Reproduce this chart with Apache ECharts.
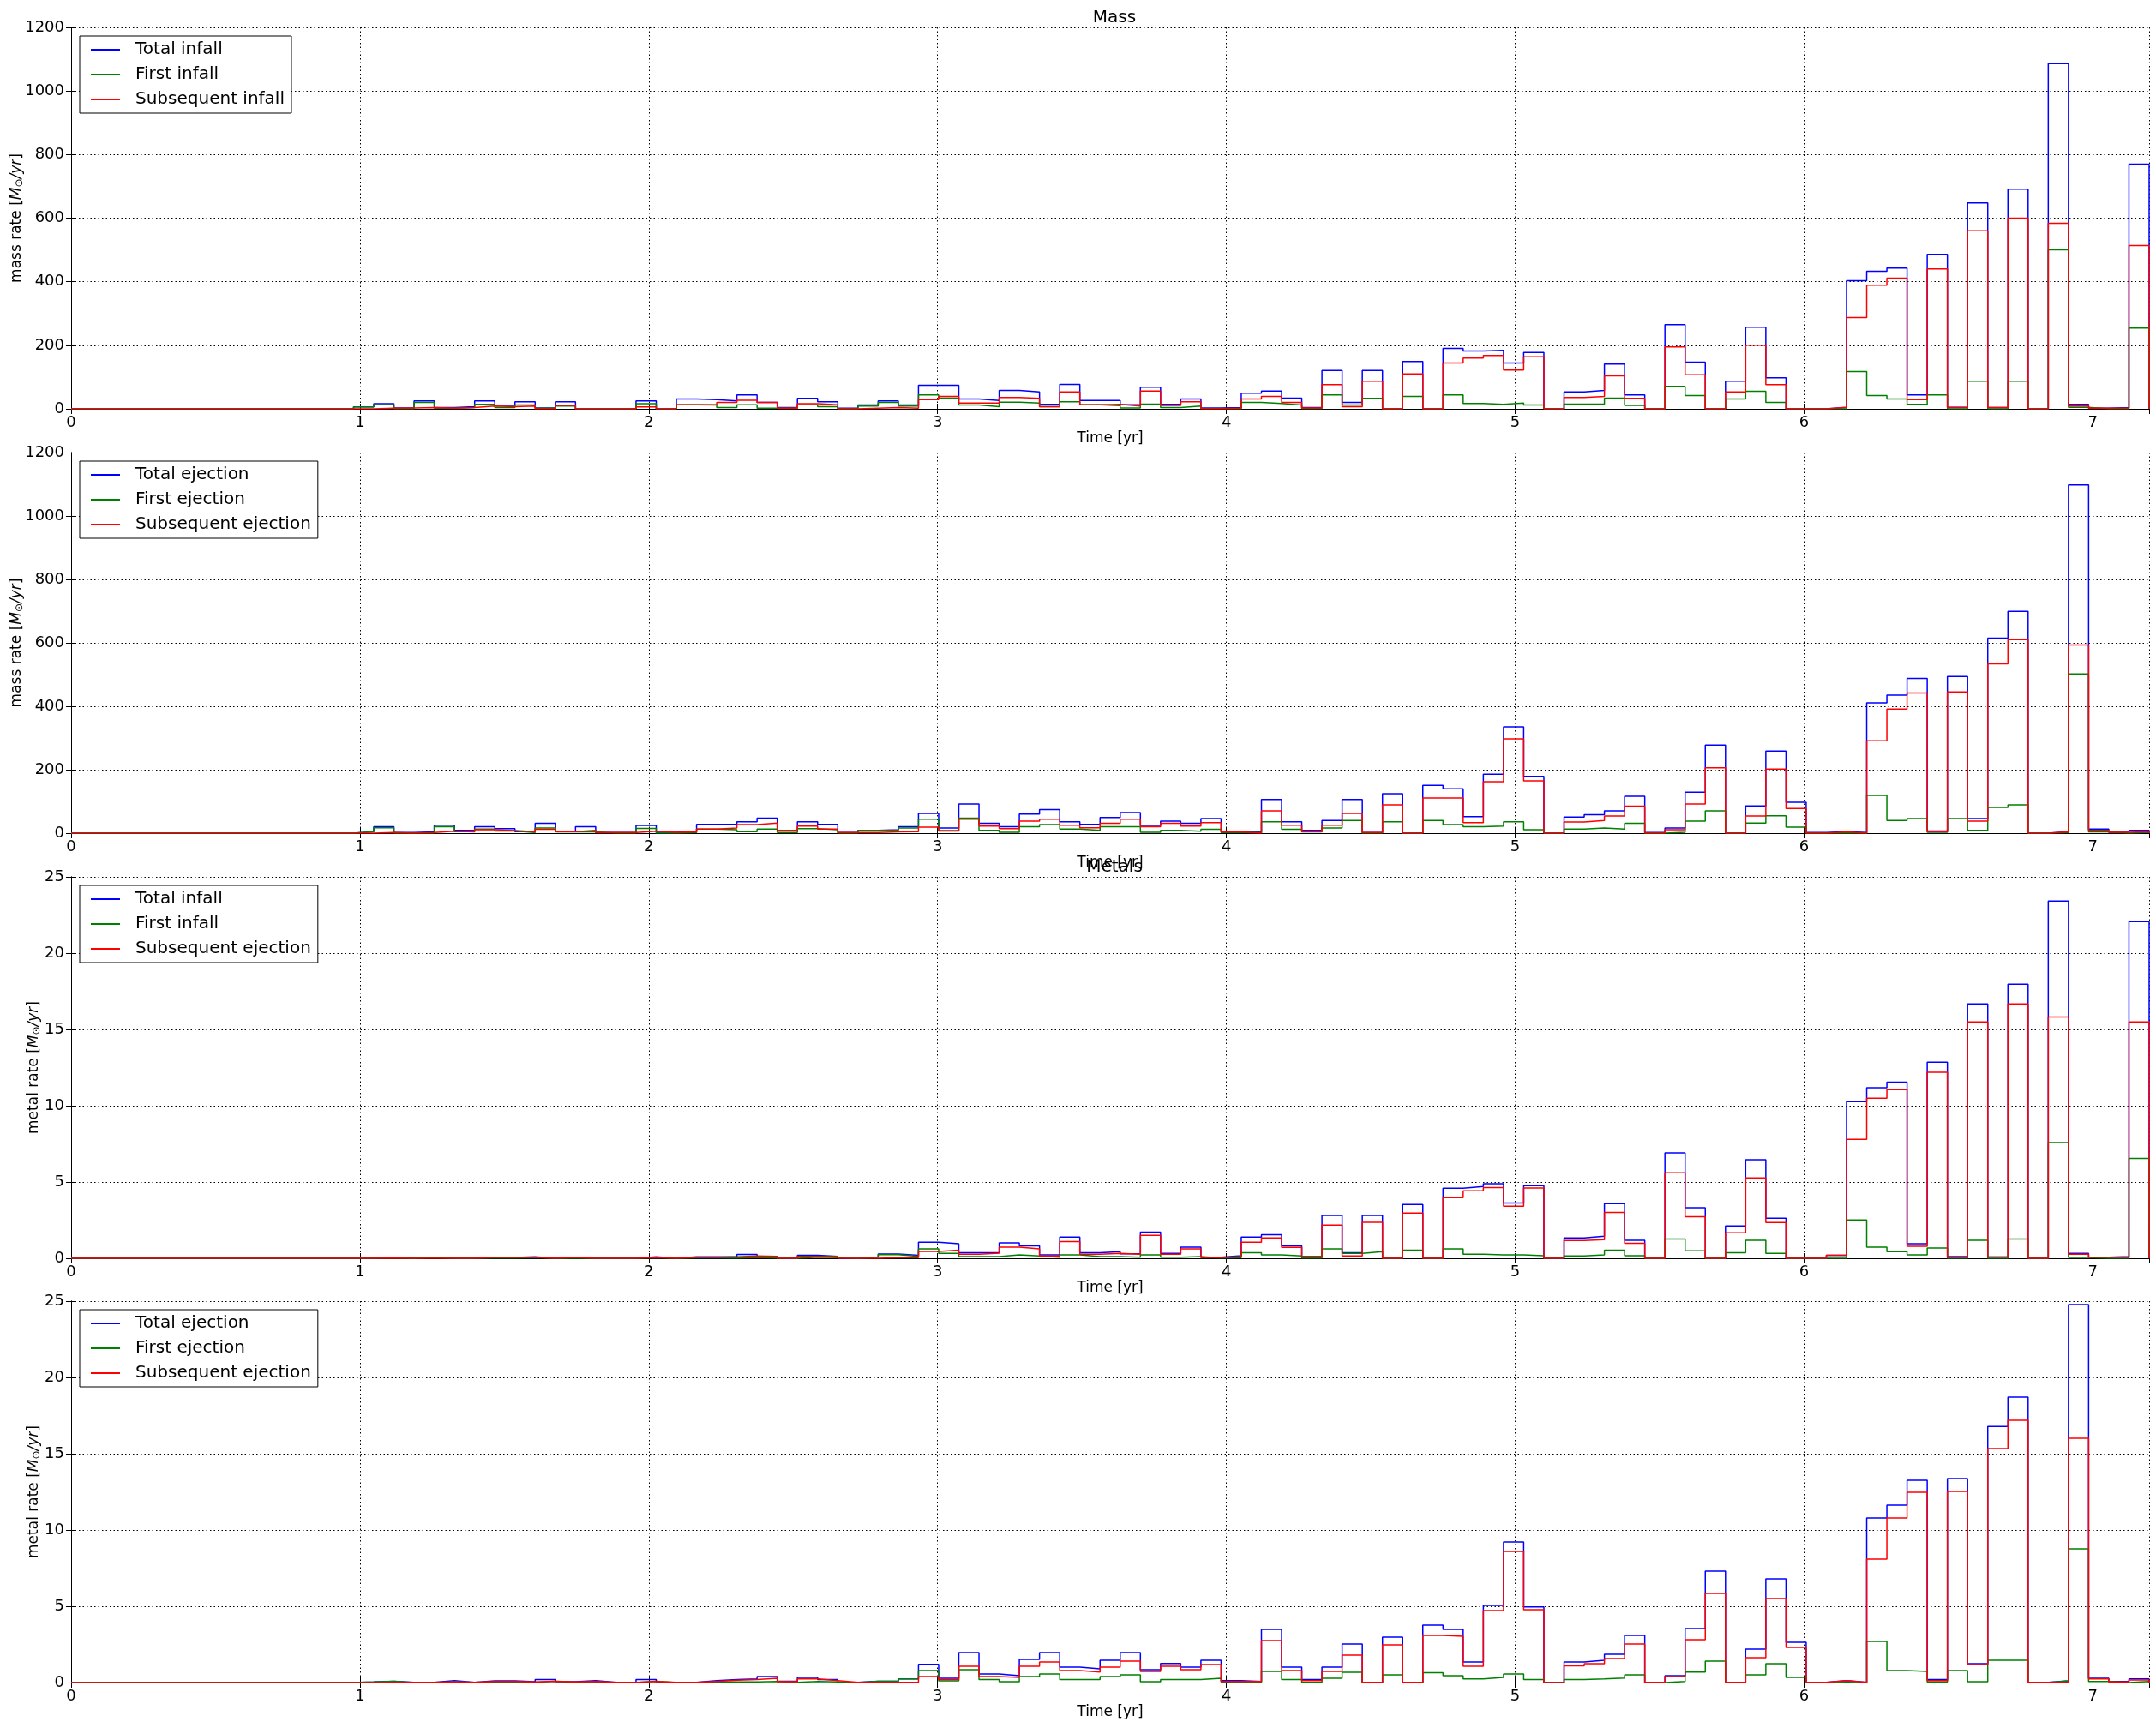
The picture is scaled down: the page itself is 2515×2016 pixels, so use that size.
<!DOCTYPE html>
<html>
<head>
<meta charset="utf-8">
<title>Mass and metal rates</title>
<script src="https://cdn.jsdelivr.net/npm/echarts@6/dist/echarts.min.js"></script>
<style>
  html, body { margin: 0; padding: 0; background: #fff; }
  #chart { width: 2515px; height: 2016px; }
</style>
</head>
<body>
<div id="chart"></div>
<script>
// 103 equal time bins from 0 to tMax; bins before firstBin are empty
var tMax = 7.195;
var nBins = 103;
var firstBin = 14;
var binWidth = tMax / nBins;

var xTicks = [0, 1, 2, 3, 4, 5, 6, 7];
var massTicks = [0, 200, 400, 600, 800, 1000, 1200];
var metalTicks = [0, 5, 10, 15, 20, 25];

// ---- Mass: infall (bins 14..102) ----
var massInfallTotal = [
  6, 16, 3, 25, 4, 7, 25, 11, 22, 3,
  22, 0, 0, 0, 25, 0, 31, 29, 25, 44,
  20, 4, 33, 22, 2, 12, 25, 12, 74, 74,
  31, 26, 58, 53, 14, 77, 26, 26, 13, 68,
  14, 31, 3, 4, 49, 56, 34, 4, 121, 20,
  121, 0, 149, 0, 190, 182, 184, 144, 177, 0,
  53, 58, 141, 44, 0, 265, 147, 0, 87, 257,
  98, 0, 0, 5, 403, 433, 443, 44, 486, 5,
  648, 4, 691, 0, 1086, 14, 2, 4, 770
];
var massInfallFirst = [
  6, 13, 0, 20, 2, 4, 14, 4, 12, 2,
  9, 0, 0, 0, 16, 0, 13, 12, 4, 13,
  2, 2, 13, 7, 0, 9, 20, 9, 44, 34,
  12, 7, 21, 18, 7, 22, 13, 10, 3, 15,
  4, 9, 1, 0, 20, 17, 12, 1, 44, 12,
  33, 0, 39, 0, 44, 17, 14, 18, 12, 0,
  15, 15, 34, 11, 0, 71, 42, 0, 31, 55,
  20, 0, 0, 0, 117, 42, 31, 14, 44, 0,
  87, 0, 87, 0, 500, 5, 0, 0, 254
];
var massInfallSub = [
  0, 2, 3, 4, 2, 4, 9, 7, 9, 0,
  11, 0, 0, 0, 6, 0, 13, 13, 20, 27,
  20, 2, 16, 13, 0, 2, 4, 2, 29, 39,
  18, 18, 36, 33, 7, 53, 13, 14, 9, 56,
  11, 22, 1, 2, 31, 39, 20, 3, 76, 7,
  87, 0, 110, 0, 144, 160, 168, 122, 164, 0,
  36, 39, 104, 33, 0, 195, 107, 0, 53, 200,
  76, 0, 0, 5, 287, 389, 411, 29, 440, 4,
  560, 4, 600, 0, 584, 9, 2, 3, 514
];

// ---- Mass: ejection ----
var massEjectTotal = [
  5, 20, 2, 4, 25, 9, 20, 14, 5, 31,
  5, 20, 2, 2, 24, 3, 6, 28, 28, 36,
  47, 9, 36, 28, 2, 9, 11, 20, 62, 16,
  92, 31, 20, 60, 74, 36, 28, 49, 65, 24,
  38, 31, 46, 4, 4, 106, 36, 9, 40, 106,
  2, 124, 0, 151, 140, 52, 186, 335, 179, 0,
  51, 58, 70, 116, 2, 16, 129, 278, 0, 86,
  259, 97, 2, 5, 2, 411, 435, 488, 7, 494,
  46, 615, 699, 0, 5, 1098, 13, 3, 9
];
var massEjectFirst = [
  5, 17, 0, 0, 20, 5, 13, 7, 2, 16,
  4, 4, 0, 0, 15, 0, 2, 13, 11, 5,
  13, 2, 14, 11, 0, 9, 9, 16, 44, 7,
  47, 9, 3, 20, 27, 13, 9, 20, 20, 3,
  9, 6, 12, 2, 2, 36, 12, 4, 16, 40,
  0, 36, 0, 40, 27, 20, 22, 36, 11, 0,
  13, 16, 13, 31, 0, 3, 38, 70, 0, 32,
  55, 19, 0, 1, 0, 119, 40, 46, 3, 46,
  9, 81, 89, 0, 2, 502, 4, 0, 3
];
var massEjectSub = [
  0, 2, 0, 2, 6, 4, 11, 8, 5, 12,
  5, 9, 2, 2, 6, 3, 4, 13, 16, 27,
  32, 9, 22, 13, 2, 2, 4, 5, 19, 8,
  44, 22, 14, 38, 44, 25, 17, 31, 44, 20,
  31, 22, 33, 4, 0, 70, 25, 5, 25, 62,
  2, 89, 0, 111, 111, 33, 162, 297, 165, 0,
  35, 40, 54, 85, 0, 11, 92, 206, 0, 54,
  202, 78, 0, 4, 0, 291, 391, 442, 5, 445,
  38, 534, 610, 0, 4, 593, 9, 3, 5
];

// ---- Metals: infall ----
var metalInfallTotal = [
  0, 0.06, 0, 0.06, 0, 0, 0.06, 0.06, 0.1, 0,
  0.06, 0, 0, 0, 0.1, 0, 0.1, 0.1, 0.11, 0.25,
  0.13, 0, 0.2, 0.13, 0, 0.07, 0.28, 0.19, 1.05, 0.95,
  0.37, 0.37, 1.01, 0.82, 0.22, 1.39, 0.37, 0.43, 0.3, 1.72,
  0.32, 0.73, 0.07, 0.17, 1.39, 1.55, 0.82, 0.11, 2.81, 0.37,
  2.81, 0, 3.52, 0, 4.59, 4.7, 4.89, 3.63, 4.76, 0,
  1.33, 1.44, 3.58, 1.18, 0, 6.91, 3.31, 0, 2.12, 6.46,
  2.62, 0, 0, 0.19, 10.26, 11.18, 11.55, 0.95, 12.85, 0.11,
  16.67, 0.09, 17.96, 0, 23.41, 0.32, 0.07, 0.11, 22.06
];
var metalInfallFirst = [
  0, 0.03, 0, 0.06, 0, 0, 0.01, 0.01, 0.04, 0,
  0.01, 0, 0, 0, 0.04, 0, 0.03, 0.03, 0.01, 0.05,
  0.01, 0, 0.07, 0.04, 0, 0.07, 0.24, 0.13, 0.62, 0.32,
  0.11, 0.11, 0.22, 0.15, 0.07, 0.22, 0.11, 0.11, 0.07, 0.22,
  0.07, 0.11, 0.02, 0.04, 0.37, 0.22, 0.15, 0.02, 0.62, 0.32,
  0.43, 0, 0.54, 0, 0.62, 0.26, 0.22, 0.22, 0.17, 0,
  0.15, 0.22, 0.54, 0.17, 0, 1.27, 0.49, 0, 0.37, 1.18,
  0.32, 0, 0, 0, 2.51, 0.73, 0.43, 0.22, 0.67, 0,
  1.18, 0, 1.27, 0, 7.58, 0.06, 0, 0, 6.55
];
var metalInfallSub = [
  0, 0.02, 0, 0, 0, 0, 0.05, 0.05, 0.05, 0,
  0.06, 0, 0, 0, 0.04, 0, 0.06, 0.06, 0.1, 0.15,
  0.13, 0, 0.13, 0.13, 0, 0, 0.04, 0.04, 0.45, 0.54,
  0.26, 0.34, 0.73, 0.62, 0.15, 1.1, 0.26, 0.32, 0.26, 1.5,
  0.26, 0.62, 0.04, 0.11, 1.05, 1.33, 0.71, 0.11, 2.17, 0.15,
  2.36, 0, 2.96, 0, 3.97, 4.42, 4.64, 3.41, 4.61, 0,
  1.16, 1.22, 3.01, 0.99, 0, 5.6, 2.73, 0, 1.67, 5.26,
  2.34, 0, 0, 0.19, 7.79, 10.49, 11.05, 0.79, 12.19, 0.05,
  15.49, 0.09, 16.67, 0, 15.82, 0.26, 0.07, 0.05, 15.49
];

// ---- Metals: ejection ----
var metalEjectTotal = [
  0.04, 0.09, 0.02, 0.02, 0.13, 0.02, 0.11, 0.11, 0.06, 0.19,
  0.06, 0.13, 0.02, 0.02, 0.19, 0.02, 0.02, 0.13, 0.19, 0.24,
  0.39, 0.09, 0.34, 0.19, 0.02, 0.09, 0.09, 0.24, 1.2, 0.28,
  1.97, 0.56, 0.45, 1.52, 1.97, 1.01, 0.9, 1.46, 1.97, 0.84,
  1.25, 1.01, 1.46, 0.13, 0.07, 3.48, 1.01, 0.19, 1.01, 2.53,
  0.02, 2.98, 0.02, 3.76, 3.48, 1.35, 5.06, 9.21, 4.96, 0,
  1.35, 1.46, 1.85, 3.09, 0.02, 0.45, 3.54, 7.3, 0.02, 2.19,
  6.8, 2.64, 0.02, 0.13, 0.02, 10.79, 11.63, 13.26, 0.19, 13.37,
  1.24, 16.78, 18.71, 0.02, 0.11, 24.78, 0.28, 0.07, 0.24
];
var metalEjectFirst = [
  0.04, 0.09, 0, 0, 0.04, 0, 0.04, 0.04, 0.02, 0.09,
  0.02, 0.04, 0, 0, 0.09, 0, 0, 0.04, 0.04, 0.04,
  0.07, 0.02, 0.07, 0.04, 0, 0.09, 0.09, 0.24, 0.79, 0.11,
  0.84, 0.19, 0.06, 0.39, 0.56, 0.19, 0.19, 0.39, 0.51, 0.06,
  0.19, 0.19, 0.28, 0.04, 0.02, 0.73, 0.19, 0.02, 0.28, 0.67,
  0, 0.51, 0, 0.64, 0.45, 0.24, 0.34, 0.56, 0.19, 0,
  0.19, 0.24, 0.3, 0.51, 0, 0.07, 0.69, 1.4, 0, 0.51,
  1.24, 0.34, 0, 0.02, 0, 2.7, 0.79, 0.73, 0.04, 0.79,
  0.06, 1.46, 1.46, 0, 0.11, 8.76, 0.07, 0, 0.07
];
var metalEjectSub = [
  0, 0.02, 0.02, 0.02, 0.04, 0.02, 0.07, 0.07, 0.04, 0.09,
  0.04, 0.07, 0.02, 0.02, 0.07, 0.02, 0.02, 0.07, 0.15, 0.19,
  0.28, 0.06, 0.24, 0.13, 0.02, 0.02, 0.02, 0.02, 0.39, 0.19,
  1.07, 0.39, 0.34, 1.07, 1.35, 0.79, 0.69, 1.01, 1.4, 0.73,
  1.07, 0.84, 1.18, 0.07, 0.07, 2.75, 0.79, 0.13, 0.73, 1.8,
  0.02, 2.47, 0.02, 3.09, 3.03, 1.07, 4.72, 8.6, 4.78, 0,
  1.09, 1.24, 1.57, 2.53, 0.02, 0.39, 2.81, 5.84, 0.02, 1.63,
  5.51, 2.3, 0.02, 0.13, 0.02, 8.09, 10.79, 12.47, 0.13, 12.53,
  1.18, 15.34, 17.19, 0.02, 0.02, 16.01, 0.24, 0.04, 0.17
];

var FONT = 'DejaVu Sans';
var COLORS = ['#0000ff', '#008000', '#ff0000'];

var panels = [
  { top: 32, height: 445, ticks: massTicks, yLabel: 'mass rate', nameGap: 54,
    names: ['Total infall', 'First infall', 'Subsequent infall'],
    data: [massInfallTotal, massInfallFirst, massInfallSub] },
  { top: 528, height: 444, ticks: massTicks, yLabel: 'mass rate', nameGap: 54,
    names: ['Total ejection', 'First ejection', 'Subsequent ejection'],
    data: [massEjectTotal, massEjectFirst, massEjectSub] },
  { top: 1023, height: 445, ticks: metalTicks, yLabel: 'metal rate', nameGap: 34,
    names: ['Total infall', 'First infall', 'Subsequent ejection'],
    data: [metalInfallTotal, metalInfallFirst, metalInfallSub] },
  { top: 1518, height: 445, ticks: metalTicks, yLabel: 'metal rate', nameGap: 34,
    names: ['Total ejection', 'First ejection', 'Subsequent ejection'],
    data: [metalEjectTotal, metalEjectFirst, metalEjectSub] }
];

// outline of a step histogram: one point per bin left edge, closed at both ends
function toSteps(vals) {
  var pts = [[0, 0]];
  for (var i = 0; i < vals.length; i++) {
    pts.push([(firstBin + i) * binWidth, vals[i]]);
  }
  pts.push([tMax, 0]);
  return pts;
}

var frame = { show: true, lineStyle: { color: '#000', width: 1 } };
var innerTick = { show: true, inside: true, length: 6, lineStyle: { color: '#000' } };
var dotted = { show: true, lineStyle: { color: '#000', width: 1, type: [1.5, 3] } };

var grids = [], xAxes = [], yAxes = [], legends = [], series = [];

panels.forEach(function (p, i) {
  var yMax = p.ticks[p.ticks.length - 1];
  var yStep = p.ticks[1] - p.ticks[0];
  grids.push({
    left: 83, right: 8, top: p.top, height: p.height,
    containLabel: false, outerBoundsMode: 'none'
  });

  xAxes.push({
    gridIndex: i, type: 'value', min: xTicks[0], max: tMax, interval: 1,
    name: 'Time [yr]', nameLocation: 'middle', nameGap: 26, nameMoveOverlap: false,
    nameTextStyle: { fontFamily: FONT, fontSize: 17, color: '#000' },
    axisLine: frame, axisTick: innerTick, splitLine: dotted,
    axisLabel: {
      fontFamily: FONT, fontSize: 18, color: '#000', margin: 7,
      showMaxLabel: false,
      formatter: function (v) {
        return Math.abs(v - Math.round(v)) < 1e-6 ? String(Math.round(v)) : '';
      }
    }
  });
  xAxes.push({
    gridIndex: i, type: 'value', position: 'top', min: xTicks[0], max: tMax, interval: 1,
    axisLine: frame, axisTick: innerTick, axisLabel: { show: false }, splitLine: { show: false }
  });

  yAxes.push({
    gridIndex: i, type: 'value', min: 0, max: yMax, interval: yStep,
    name: p.yLabel + ' [{m|M}{s|\u2299}{m|/yr}]', nameLocation: 'middle',
    nameGap: p.nameGap, nameMoveOverlap: false,
    nameTextStyle: {
      fontFamily: FONT, fontSize: 17, color: '#000',
      rich: {
        m: { fontFamily: FONT, fontSize: 17, fontStyle: 'italic', color: '#000' },
        s: { fontFamily: FONT, fontSize: 12, color: '#000', padding: [6, 0, 0, 0] }
      }
    },
    axisLine: frame, axisTick: innerTick, splitLine: dotted,
    axisLabel: {
      fontFamily: FONT, fontSize: 18, color: '#000', margin: 8,
      formatter: function (v) { return String(v); }
    }
  });
  yAxes.push({
    gridIndex: i, type: 'value', position: 'right', min: 0, max: yMax, interval: yStep,
    axisLine: frame, axisTick: innerTick, axisLabel: { show: false }, splitLine: { show: false }
  });

  legends.push({
    data: p.names, orient: 'vertical', left: 93, top: p.top + 10,
    icon: 'rect', itemWidth: 34, itemHeight: 2, itemGap: 9,
    padding: [6, 8, 6, 13],
    borderColor: '#000', borderWidth: 1, borderRadius: 0,
    backgroundColor: '#fff', selectedMode: false,
    textStyle: { fontFamily: FONT, fontSize: 20, color: '#000', padding: [0, 0, 0, 13] }
  });

  p.data.forEach(function (vals, j) {
    series.push({
      type: 'line', name: p.names[j], xAxisIndex: 2 * i, yAxisIndex: 2 * i,
      step: 'end', symbol: 'none', silent: true,
      data: toSteps(vals),
      lineStyle: { color: COLORS[j], width: 1.5 },
      itemStyle: { color: COLORS[j] }
    });
  });
});

var chart = echarts.init(document.getElementById('chart'));
chart.setOption({
  animation: false,
  backgroundColor: '#fff',
  title: [
    { text: 'Mass', left: 1295, top: 6, textAlign: 'center',
      textStyle: { fontFamily: FONT, fontSize: 20, fontWeight: 'normal', color: '#000' } },
    { text: 'Metals', left: 1295, top: 997, textAlign: 'center',
      textStyle: { fontFamily: FONT, fontSize: 20, fontWeight: 'normal', color: '#000' } }
  ],
  grid: grids,
  xAxis: xAxes,
  yAxis: yAxes,
  legend: legends,
  series: series
});
</script>
</body>
</html>
